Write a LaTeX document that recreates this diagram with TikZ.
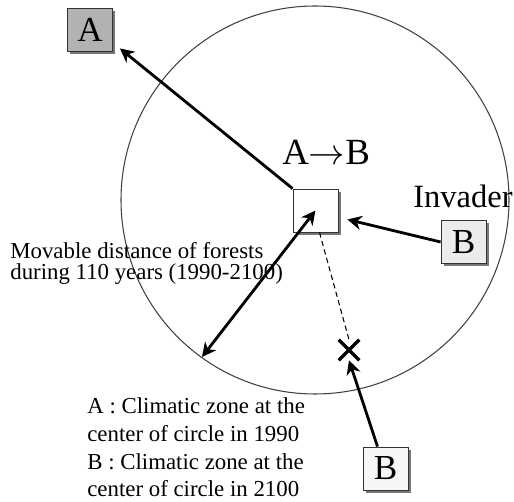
\documentclass[tikz,border=0pt]{standalone}
\usepackage{fontspec}
\setmainfont{Liberation Serif}
\usetikzlibrary{arrows.meta,shapes.misc,shadows}
\definecolor{GrisZonaA}{RGB}{178,178,178}
\definecolor{GrisZonaB}{RGB}{236,236,236}
\definecolor{GrisClaro}{RGB}{246,246,246}
\definecolor{GrisSombra}{RGB}{120,120,120}
\tikzset{
  zona/.style={draw=black!80,line width=0.5pt,minimum width=0.9cm,minimum height=0.86cm,
    inner sep=0pt,font=\fontsize{20}{20}\selectfont,
    drop shadow={shadow xshift=1.7pt,shadow yshift=-1.7pt,fill=GrisSombra,opacity=1}},
  flecha/.style={line width=1.6pt},
  texto/.style={anchor=base west,inner sep=0pt,align=left}
}
\begin{document}
\begin{tikzpicture}[x=0.02cm,y=-0.02cm,>={Stealth[length=8pt,width=8pt,inset=2.5pt]}]
  \useasboundingbox (0,0) rectangle (514,502);
  \draw[line width=0.6pt,black!75] (315,200) circle (194);
  \node[zona,fill=GrisZonaA] (zonaA) at (90,29.5) {A};
  \node[zona,fill=white] (centro) at (315.5,210.5) {};
  \node[zona,fill=GrisZonaB] (invasor) at (463.5,242) {B};
  \node[zona,fill=GrisClaro] (futuro) at (385.5,468.5) {B};
  \node[cross out,draw,line width=2pt,minimum size=0.34cm,inner sep=0pt] (marca) at (349,350) {};
  \coordinate (borde) at (202,357);
  \node[texto,font=\fontsize{21}{21}\selectfont] (cambio) at (282,165) {A$\rightarrow$B};
  \node[texto,font=\fontsize{18.5}{18.5}\selectfont] (invader) at (413,208) {Invader};
  \node[texto,font=\fontsize{13}{12.5}\selectfont] (distancia) at (10,280)
    {Movable distance of forests\\during 110 years (1990-2100)};
  \node[texto,font=\fontsize{13}{15.9}\selectfont] (leyenda) at (87,497)
    {A : Climatic zone at the\\center of circle in 1990\\B : Climatic zone at the\\center of circle in 2100};
  \draw[->,flecha] (centro.north west) -- ([shift={(7,-3)}]zonaA.south east);
  \draw[->,flecha] (invasor.west) -- ([shift={(9,9)}]centro.east);
  \draw[<->,flecha] (borde) -- (centro.center);
  \draw[dash pattern=on 3pt off 2pt,line width=0.6pt] ([shift={(4,0)}]centro.south) -- (marca.north);
  \draw[->,flecha] ([shift={(-8,0)}]futuro.north) -- (marca.south);
\end{tikzpicture}
\end{document}
